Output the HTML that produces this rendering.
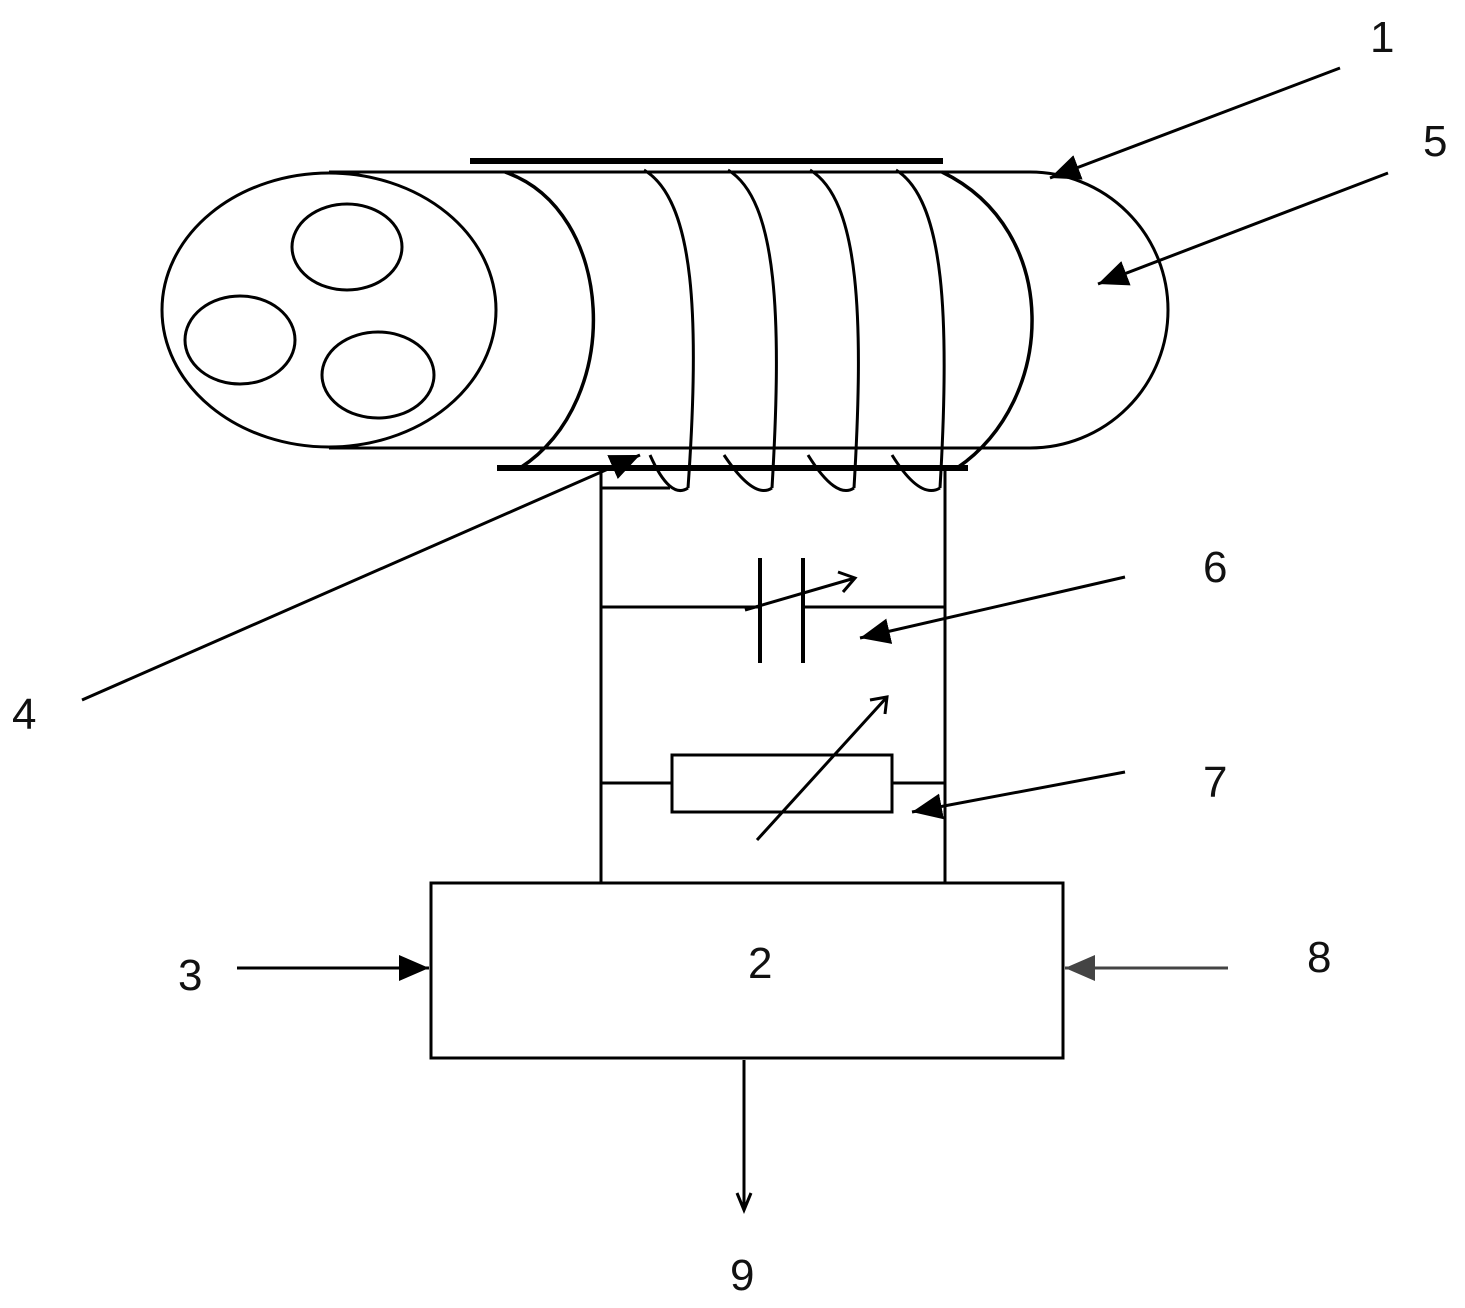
<!DOCTYPE html>
<html><head><style>body{margin:0;background:#fff}svg{display:block}text{font-family:"Liberation Sans",sans-serif;font-size:44px;fill:#111}</style></head>
<body>
<svg width="1465" height="1308" viewBox="0 0 1465 1308" xmlns="http://www.w3.org/2000/svg">
<defs>
<marker id="a" markerWidth="30" markerHeight="26" refX="30" refY="13" orient="auto" markerUnits="userSpaceOnUse" viewBox="0 0 30 26"><path d="M0,0 L30,13 L0,26 z" fill="#000"/></marker>
<marker id="g" markerWidth="30" markerHeight="26" refX="30" refY="13" orient="auto" markerUnits="userSpaceOnUse" viewBox="0 0 30 26"><path d="M0,0 L30,13 L0,26 z" fill="#444"/></marker>
</defs>
<g fill="none" stroke="#000" stroke-width="3">
<path d="M329,172 L1030,172 A138,138 0 0 1 1030,448 L329,448"/>
<ellipse cx="329" cy="310" rx="167" ry="137"/>
<ellipse cx="347" cy="247" rx="55" ry="43"/>
<ellipse cx="240" cy="340" rx="55" ry="44"/>
<ellipse cx="378" cy="375" rx="56" ry="43"/>
<path d="M505,172 C615,210 625,400 520,468" stroke-width="3.5"/>
<path d="M644,170 C695,200 700,320 688,488"/>
<path d="M728,170 C778,200 782,320 772,488"/>
<path d="M810,170 C860,200 864,320 854,488"/>
<path d="M896,170 C945,200 950,320 940,488"/>
<path d="M942,172 C1062,230 1057,400 957,468" stroke-width="3.5"/>
<path d="M688,488 Q670,500 650,455"/>
<path d="M772,488 Q754,500 724,455"/>
<path d="M854,488 Q836,500 808,455"/>
<path d="M940,488 Q920,500 892,455"/>
<path d="M601,470 V882 M945,470 V882"/>
<path d="M601,488 H670"/>
<path d="M601,607 H760 M803,607 H945"/>
<path d="M760,558 V663 M803,558 V663" stroke-width="4"/>
<line x1="745" y1="610" x2="855" y2="578"/>
<path d="M838,572 L855,578 L843,592"/>
<rect x="672" y="755" width="220" height="57"/>
<path d="M601,783 H672 M892,783 H945"/>
<line x1="757" y1="840" x2="887" y2="697"/>
<path d="M870,700 L887,697 L885,714"/>
<rect x="431" y="883" width="632" height="175"/>
<line x1="744" y1="1060" x2="744" y2="1208"/>
<path d="M737,1193 L744,1210 L751,1193"/>
</g>
<rect x="470" y="158" width="473" height="6" fill="#000"/>
<rect x="497" y="465" width="471" height="6" fill="#000"/>
<g stroke="#000" stroke-width="3">
<line x1="1340" y1="68" x2="1050" y2="178" marker-end="url(#a)"/>
<line x1="1388" y1="173" x2="1098" y2="284" marker-end="url(#a)"/>
<line x1="1125" y1="577" x2="860" y2="638" marker-end="url(#a)"/>
<line x1="1125" y1="772" x2="912" y2="812" marker-end="url(#a)"/>
<line x1="82" y1="700" x2="640" y2="455" marker-end="url(#a)"/>
<line x1="237" y1="968" x2="429" y2="968" marker-end="url(#a)"/>
<line x1="1228" y1="968" x2="1065" y2="968" marker-end="url(#g)" stroke="#444"/>
</g>
<text x="1370" y="52">1</text>
<text x="1423" y="156">5</text>
<text x="1203" y="582">6</text>
<text x="12" y="729">4</text>
<text x="1203" y="797">7</text>
<text x="178" y="990">3</text>
<text x="1307" y="972">8</text>
<text x="748" y="978">2</text>
<text x="730" y="1290">9</text>
</svg>
</body></html>
